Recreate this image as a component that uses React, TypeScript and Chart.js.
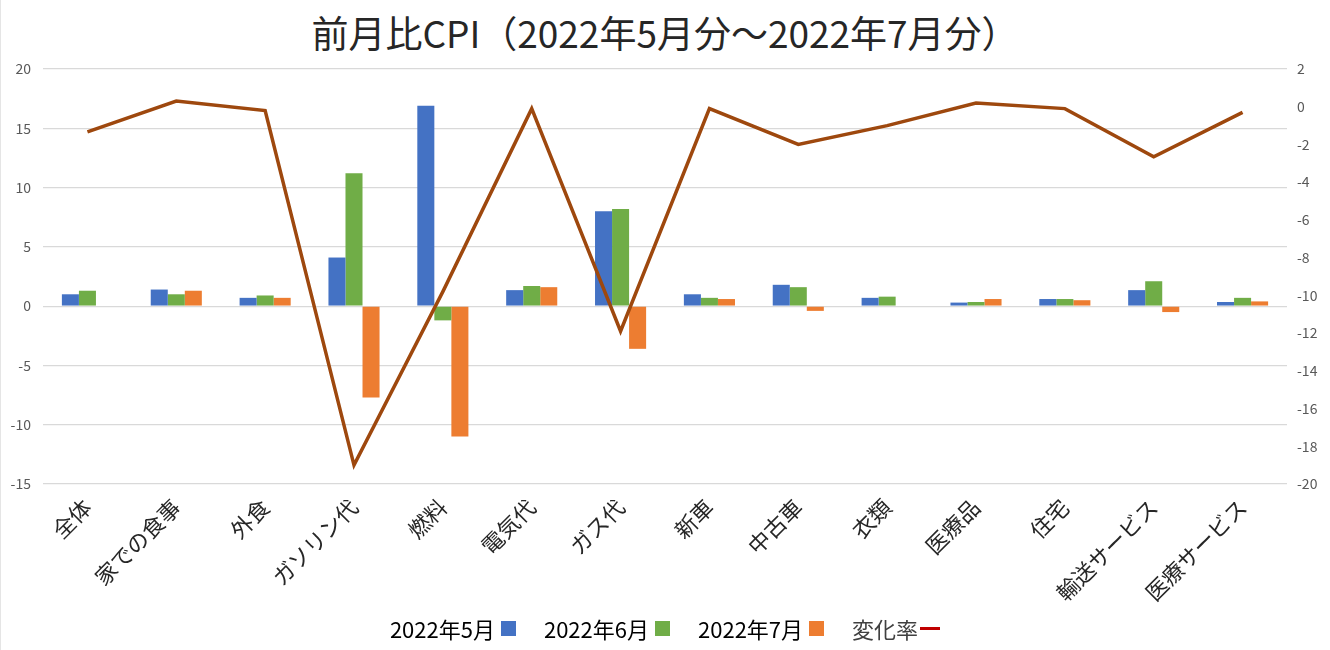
import React, { useEffect, useRef } from "react";
import { Chart, registerables } from "chart.js";

Chart.register(...registerables);

const categories = [
  "全体",
  "家での食事",
  "外食",
  "ガソリン代",
  "燃料",
  "電気代",
  "ガス代",
  "新車",
  "中古車",
  "衣類",
  "医療品",
  "住宅",
  "輸送サービス",
  "医療サービス",
];
const may2022 = [1.0, 1.4, 0.7, 4.1, 16.9, 1.35, 8.0, 1.0, 1.8, 0.7, 0.3, 0.6, 1.35, 0.35];
const jun2022 = [1.3, 1.0, 0.9, 11.2, -1.2, 1.7, 8.2, 0.7, 1.6, 0.8, 0.35, 0.6, 2.1, 0.7];
const jul2022 = [null, 1.3, 0.7, -7.7, -11.0, 1.6, -3.6, 0.6, -0.4, null, 0.6, 0.5, -0.5, 0.4];
const changeRate = [-1.33, 0.3, -0.2, -19.0, -9.8, -0.1, -11.9, -0.1, -2.0, -1.0, 0.2, -0.1, -2.65, -0.3];
const seriesNames = ["2022年5月", "2022年6月", "2022年7月", "変化率"];

const BLUE = "#4472C4";
const GREEN = "#70AD47";
const ORANGE = "#ED7D31";
const LINE = "#9E480E";
const FONT = "'Noto Sans CJK JP', 'Noto Sans', sans-serif";

export default function App() {
  const ref = useRef<HTMLCanvasElement | null>(null);

  useEffect(() => {
    if (!ref.current) return;
    const chart = new Chart(ref.current, {
      type: "bar",
      data: {
        labels: categories,
        datasets: [
          { type: "bar", label: seriesNames[0], data: may2022, backgroundColor: BLUE, yAxisID: "y", order: 1 },
          { type: "bar", label: seriesNames[1], data: jun2022, backgroundColor: GREEN, yAxisID: "y", order: 1 },
          { type: "bar", label: seriesNames[2], data: jul2022 as any, backgroundColor: ORANGE, yAxisID: "y", order: 1 },
          {
            type: "line",
            label: seriesNames[3],
            data: changeRate,
            borderColor: LINE,
            backgroundColor: LINE,
            borderWidth: 3.5,
            pointRadius: 0,
            tension: 0,
            yAxisID: "y2",
            order: 0,
          } as any,
        ],
      },
      options: {
        animation: false,
        responsive: false,
        maintainAspectRatio: false,
        datasets: { bar: { categoryPercentage: 0.575, barPercentage: 1.0 } },
        layout: { padding: { top: 69, bottom: 30, left: 0, right: 0 } },
        plugins: {
          legend: { display: false },
          title: { display: false },
          tooltip: { enabled: false },
        },
        scales: {
          x: {
            grid: { display: false },
            border: { display: false },
            ticks: {
              minRotation: 45,
              maxRotation: 45,
              autoSkip: false,
              padding: 2,
              color: "#262626",
              font: { family: FONT, size: 22 },
            },
            afterFit: (s: any) => {
              s.height = 136;
            },
          },
          y: {
            position: "left",
            min: -15,
            max: 20,
            ticks: { stepSize: 5, color: "#595959", font: { family: FONT, size: 14 }, padding: 12 },
            grid: { color: "#D9D9D9", lineWidth: 1.2, drawTicks: false },
            border: { display: false },
            afterFit: (s: any) => {
              s.width = 43;
            },
          },
          y2: {
            position: "right",
            min: -20,
            max: 2,
            ticks: { stepSize: 2, color: "#595959", font: { family: FONT, size: 14 }, padding: 10 },
            grid: { drawOnChartArea: false, drawTicks: false },
            border: { display: false },
            afterFit: (s: any) => {
              s.width = 43;
            },
          },
        },
      },
    });
    return () => chart.destroy();
  }, []);

  const legendItems = [
    { name: seriesNames[0], color: BLUE, kind: "box", text: "#000" },
    { name: seriesNames[1], color: GREEN, kind: "box", text: "#000" },
    { name: seriesNames[2], color: ORANGE, kind: "box", text: "#000" },
    { name: seriesNames[3], color: "#C00000", kind: "line", text: "#404040" },
  ];

  return (
    <div style={{ position: "fixed", left: 0, top: 0, width: 1330, height: 650, background: "#fff", fontFamily: FONT }}>
      <div style={{ position: "absolute", left: 0, top: 0, width: 1, height: 650, background: "#E5E5E5" }} />
      <div
        style={{
          position: "absolute",
          top: 6,
          left: 0,
          width: 1330,
          textAlign: "center",
          fontSize: 37,
          lineHeight: "52px",
          color: "#262626",
        }}
      >
        前月比CPI（2022年5月分～2022年7月分）
      </div>
      <canvas ref={ref} width={1330} height={650} style={{ position: "absolute", left: 0, top: 0 }} />
      <div
        style={{
          position: "absolute",
          top: 611,
          left: 0,
          width: 1330,
          display: "flex",
          justifyContent: "center",
          alignItems: "center",
          fontSize: 22,
          lineHeight: "34px",
        }}
      >
        {legendItems.map((it, i) => (
          <div key={i} style={{ display: "flex", alignItems: "center", marginRight: i < 3 ? 28 : 0 }}>
            <span style={{ color: it.text }}>{it.name}</span>
            {it.kind === "box" ? (
              <span style={{ display: "inline-block", width: 15, height: 15, background: it.color, marginLeft: 6 }} />
            ) : (
              <span style={{ display: "inline-block", width: 20, height: 3, background: it.color, marginLeft: 2 }} />
            )}
          </div>
        ))}
      </div>
    </div>
  );
}
